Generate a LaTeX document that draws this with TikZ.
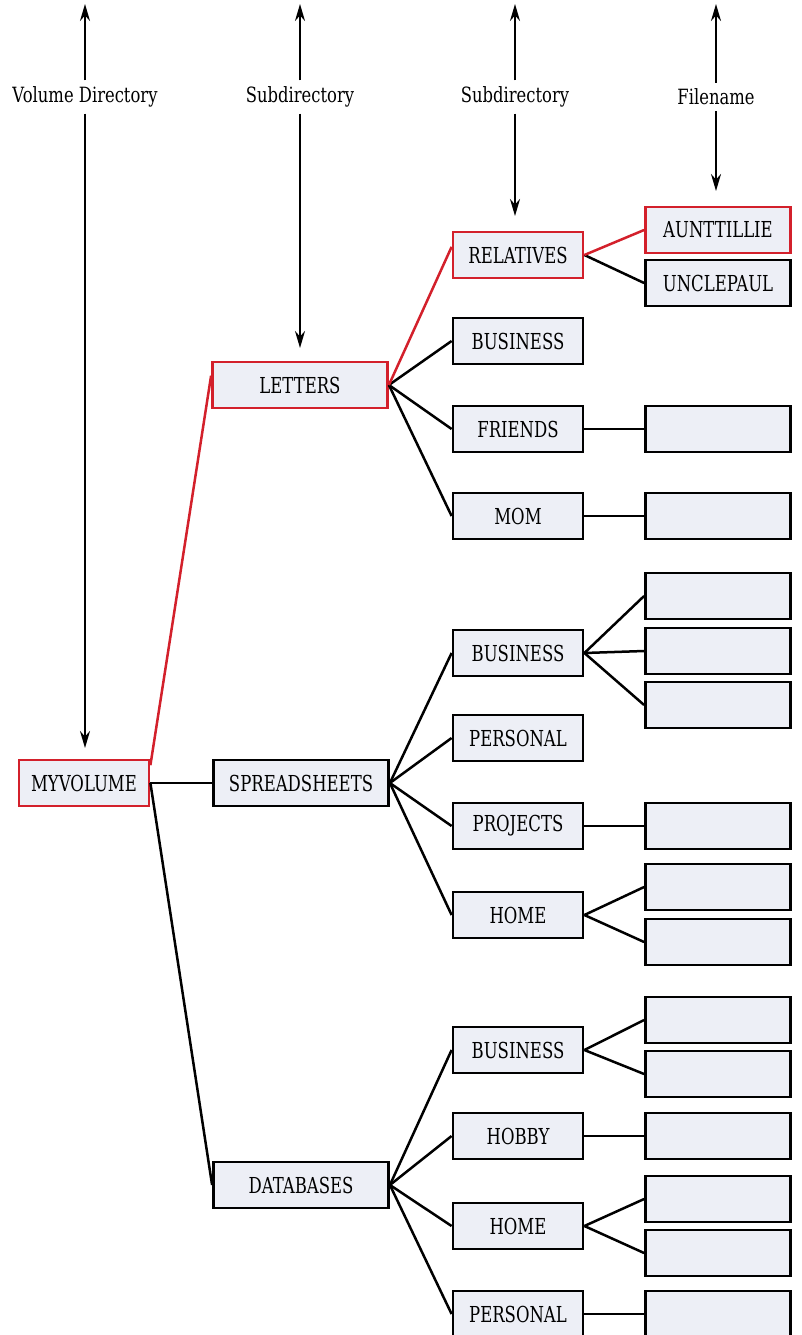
\documentclass[tikz,border=0pt]{standalone}
\usepackage{fontspec}
\newfontfamily\boxfont{DejaVu Serif}[FakeStretch=0.75]
\newfontfamily\levelfont{DejaVu Serif}[FakeStretch=0.78]
\usetikzlibrary{arrows.meta}
\definecolor{boxfill}{HTML}{EDEFF6}
\definecolor{pathred}{HTML}{D3202B}

\begin{document}
\begin{tikzpicture}[x=1pt,y=-1pt,>={Stealth[length=17pt,width=10pt]},
	dirbox/.style={shape=rectangle,draw=black,line width=2.8pt,fill=boxfill,minimum height=46pt,inner sep=0pt,font=\boxfont\fontsize{22}{24}\selectfont},
	volbox/.style={dirbox,minimum width=130pt},
	subbox/.style={dirbox,minimum width=175pt},
	leafbox/.style={dirbox,minimum width=130pt},
	filebox/.style={dirbox,minimum width=145pt},
	redbox/.style={draw=pathred},
	level/.style={inner sep=6pt,font=\levelfont\fontsize{21}{23}\selectfont},
	link/.style={line width=2.5pt},
	redlink/.style={line width=2.5pt,draw=pathred},
	axis/.style={->,line width=2pt}]
	\useasboundingbox (0,0) rectangle (802,1335);

	% level labels along the top
	\node (levvol) [level] at (85,97) {Volume Directory};
	\node (levsub) [level] at (300,97) {Subdirectory};
	\node (levsubsub) [level] at (515,97) {Subdirectory};
	\node (levfile) [level] at (716,97) {Filename};
	\coordinate (voltop) at (85,4);
	\coordinate (volbot) at (85,748);
	\coordinate (subtop) at (300,4);
	\coordinate (subbot) at (300,348);
	\coordinate (subsubtop) at (515,4);
	\coordinate (subsubbot) at (515,216);
	\coordinate (filetop) at (716,4);
	\coordinate (filebot) at (716,191);
	\draw[axis] (levvol) -- (voltop);
	\draw[axis] (levvol) -- (volbot);
	\draw[axis] (levsub) -- (subtop);
	\draw[axis] (levsub) -- (subbot);
	\draw[axis] (levsubsub) -- (subsubtop);
	\draw[axis] (levsubsub) -- (subsubbot);
	\draw[axis] (levfile) -- (filetop);
	\draw[axis] (levfile) -- (filebot);

	% volume and first subdirectories
	\node (myvolume) [volbox,redbox] at (84,783) {MYVOLUME};
	\node (letters) [subbox,redbox] at (300,385) {LETTERS};
	\node (spreadsheets) [subbox] at (301,783) {SPREADSHEETS};
	\node (databases) [subbox] at (301,1185) {DATABASES};

	% LETTERS
	\node (relatives) [leafbox,redbox] at (518,255) {RELATIVES};
	\node (lbusiness) [leafbox] at (518,341) {BUSINESS};
	\node (friends) [leafbox] at (518,429) {FRIENDS};
	\node (mom) [leafbox] at (518,516) {MOM};
	\node (aunttillie) [filebox,redbox] at (718,230) {AUNTTILLIE};
	\node (unclepaul) [filebox] at (718,283) {UNCLEPAUL};
	\node (friendsfile) [filebox] at (718,429) {};
	\node (momfile) [filebox] at (718,516) {};

	% SPREADSHEETS
	\node (sbusiness) [leafbox] at (518,653) {BUSINESS};
	\node (spersonal) [leafbox] at (518,738) {PERSONAL};
	\node (projects) [leafbox] at (518,826) {PROJECTS};
	\node (shome) [leafbox] at (518,915) {HOME};
	\node (sbusfileA) [filebox] at (718,596) {};
	\node (sbusfileB) [filebox] at (718,651) {};
	\node (sbusfileC) [filebox] at (718,705) {};
	\node (projfile) [filebox] at (718,826) {};
	\node (shomefileA) [filebox] at (718,887) {};
	\node (shomefileB) [filebox] at (718,942) {};

	% DATABASES
	\node (dbusiness) [leafbox] at (518,1050) {BUSINESS};
	\node (hobby) [leafbox] at (518,1136) {HOBBY};
	\node (dhome) [leafbox] at (518,1226) {HOME};
	\node (dpersonal) [leafbox] at (518,1314) {PERSONAL};
	\node (dbusfileA) [filebox] at (718,1020) {};
	\node (dbusfileB) [filebox] at (718,1074) {};
	\node (hobbyfile) [filebox] at (718,1136) {};
	\node (dhomefileA) [filebox] at (718,1199) {};
	\node (dhomefileB) [filebox] at (718,1253) {};
	\node (dpersfile) [filebox] at (718,1314) {};

	% branches
	\draw[link] (myvolume.east) -- (spreadsheets.west);
	\draw[link] (myvolume.east) -- (databases.west);
	\draw[link] (letters.east) -- (lbusiness.west);
	\draw[link] (letters.east) -- (friends.west);
	\draw[link] (letters.east) -- (mom.west);
	\draw[link] (relatives.east) -- (unclepaul.west);
	\draw[link] (friends.east) -- (friendsfile.west);
	\draw[link] (mom.east) -- (momfile.west);
	\draw[link] (spreadsheets.east) -- (sbusiness.west);
	\draw[link] (spreadsheets.east) -- (spersonal.west);
	\draw[link] (spreadsheets.east) -- (projects.west);
	\draw[link] (spreadsheets.east) -- (shome.west);
	\draw[link] (sbusiness.east) -- (sbusfileA.west);
	\draw[link] (sbusiness.east) -- (sbusfileB.west);
	\draw[link] (sbusiness.east) -- (sbusfileC.west);
	\draw[link] (projects.east) -- (projfile.west);
	\draw[link] (shome.east) -- (shomefileA.west);
	\draw[link] (shome.east) -- (shomefileB.west);
	\draw[link] (databases.east) -- (dbusiness.west);
	\draw[link] (databases.east) -- (hobby.west);
	\draw[link] (databases.east) -- (dhome.west);
	\draw[link] (databases.east) -- (dpersonal.west);
	\draw[link] (dbusiness.east) -- (dbusfileA.west);
	\draw[link] (dbusiness.east) -- (dbusfileB.west);
	\draw[link] (hobby.east) -- (hobbyfile.west);
	\draw[link] (dhome.east) -- (dhomefileA.west);
	\draw[link] (dhome.east) -- (dhomefileB.west);
	\draw[link] (dpersonal.east) -- (dpersfile.west);

	% path to AUNTTILLIE
	\draw[redlink] (myvolume.15) -- (letters.174);
	\draw[redlink] (letters.east) -- (relatives.173);
	\draw[redlink] (relatives.east) -- (aunttillie.west);
\end{tikzpicture}
\end{document}
